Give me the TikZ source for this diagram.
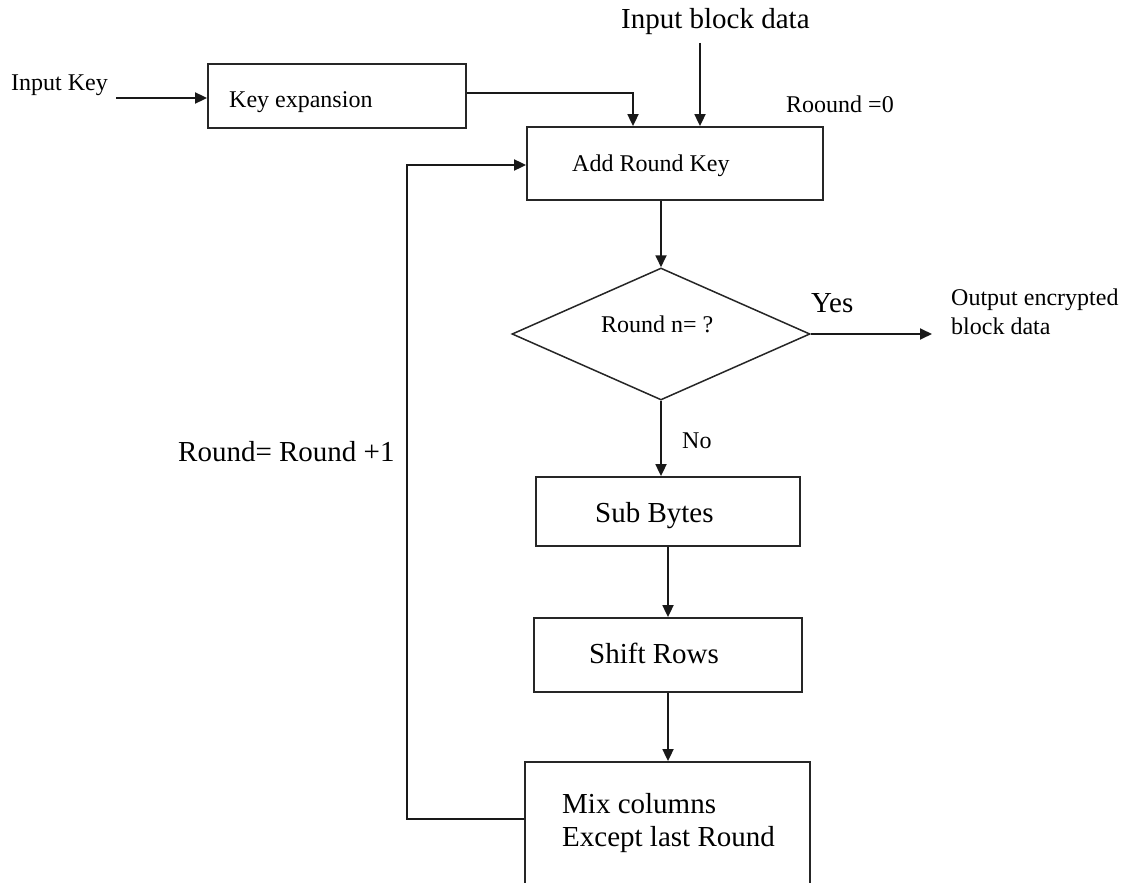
\documentclass[tikz,border=0pt]{standalone}
\usepackage{fontspec}
\setmainfont{Liberation Serif}
\usetikzlibrary{arrows.meta,shapes.geometric}
\begin{document}
\begin{tikzpicture}[x=1pt,y=-1pt,
  box/.style={draw=black!85, line width=1.8pt, rectangle, inner sep=0pt},
  decision/.style={draw=black!85, line width=1.5pt, diamond, inner sep=0pt},
  arr/.style={draw=black!90, line width=1.8pt, -{Triangle[length=12pt,width=11pt]}},
  small/.style={font=\fontsize{24}{29}\selectfont, inner sep=0pt, anchor=base west},
  big/.style={font=\fontsize{29}{35}\selectfont, inner sep=0pt, anchor=base west}]
\useasboundingbox (0,0) rectangle (1128,883);
\fill[white] (0,0) rectangle (1128,883);
\clip (0,0) rectangle (1128,883);

% blocks
\node[box, minimum width=258pt, minimum height=64pt] (keyexp) at (337,96) {};
\node[box, minimum width=296pt, minimum height=73pt] (ark) at (675,163.5) {};
\node[decision, minimum width=298pt, minimum height=132pt] (dec) at (661,334) {};
\node[box, minimum width=264pt, minimum height=69pt] (sub) at (668,511.5) {};
\node[box, minimum width=268pt, minimum height=74pt] (shift) at (668,655) {};
\node[box, minimum width=285pt, minimum height=158pt] (mix) at (667.5,841) {};

% labels
\node[small] (keyin) at (11,91) {Input Key};
\node[small] (keyexpt) at (229,107) {Key expansion};
\node[big] (blockin) at (621,29) {Input block data};
\node[small] (round0) at (786,113) {Roound =0};
\node[small] (arkt) at (572,171) {Add Round Key};
\node[small] (dect) at (601,332) {Round n= ?};
\node[big] (yes) at (811,312) {Yes};
\node[small] (out1) at (951,305) {Output encrypted};
\node[small] (out2) at (951,334) {block data};
\node[small] (no) at (682,448) {No};
\node[big] (inc) at (178,461) {Round= Round +1};
\node[big] (subt) at (595,522) {Sub Bytes};
\node[big] (shiftt) at (589,663) {Shift Rows};
\node[big] (mix1) at (562,813) {Mix columns};
\node[big] (mix2) at (562,846) {Except last Round};

% free ends of connectors
\coordinate (kstart) at (116,98);
\coordinate (bstart) at (700,43);
\coordinate (outend) at (932,334);
\coordinate (loopc) at (407,819);

% connectors
\draw[arr] (kstart) -- (kstart -| keyexp.west);
\draw[arr] ([yshift=3pt]keyexp.east) -| ([xshift=-42pt]ark.north);
\draw[arr] (bstart) -- (bstart |- ark.north);
\draw[arr] (dec.north |- ark.south) -- (dec.north);
\draw[arr] (dec.east) -- (outend);
\draw[arr] (dec.south) -- (dec.south |- sub.north);
\draw[arr] (sub.south) -- (shift.north);
\draw[arr] (shift.south) -- (shift.south |- mix.north);
\draw[arr] (loopc -| mix.west) -- (loopc) |- ([yshift=-1.5pt]ark.west);
\end{tikzpicture}
\end{document}
